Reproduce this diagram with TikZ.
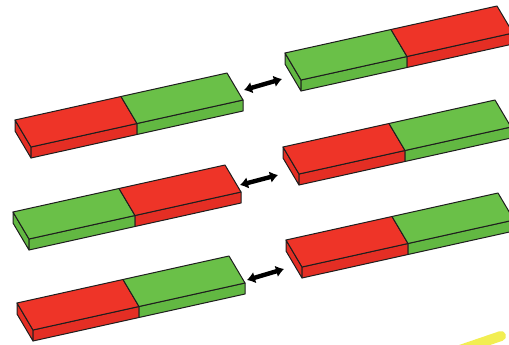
\documentclass[tikz,border=0pt]{standalone}
\usetikzlibrary{arrows.meta,calc}
\definecolor{magred}{RGB}{238,52,40}
\definecolor{magredside}{RGB}{228,46,36}
\definecolor{maggreen}{RGB}{106,192,72}
\definecolor{maggreenside}{RGB}{98,184,66}
\definecolor{edgegray}{RGB}{30,30,30}
\definecolor{marker}{RGB}{242,238,82}
\tikzset{
  baredge/.style={draw=edgegray, line width=1pt, line join=round},
  swaparrow/.style={line width=4.4pt, {Latex[length=8pt,width=12pt]}-{Latex[length=8pt,width=12pt]}},
  highlighter/.style={line width=10pt, line cap=round, draw=marker}
}
% \magbar{name}{x,y of back-left top corner}{left colour}{right colour}
\newcommand\magbar[4]{%
  \coordinate (#1A) at (#2);
  \coordinate (#1M) at ($(#1A)+(106,-23.5)$);
  \coordinate (#1B) at ($(#1A)+(212,-47)$);
  \coordinate (#1D) at ($(#1A)+(16,27)$);
  \coordinate (#1N) at ($(#1M)+(16,27)$);
  \coordinate (#1C) at ($(#1B)+(16,27)$);
  \coordinate (#1Ab) at ($(#1A)+(0,11)$);
  \coordinate (#1Db) at ($(#1D)+(0,11)$);
  \coordinate (#1Nb) at ($(#1N)+(0,11)$);
  \coordinate (#1Cb) at ($(#1C)+(0,11)$);
  % left end face
  \filldraw[baredge, fill=#3side] (#1A) -- (#1D) -- (#1Db) -- (#1Ab) -- cycle;
  % front faces
  \filldraw[baredge, fill=#3side] (#1D) -- (#1N) -- (#1Nb) -- (#1Db) -- cycle;
  \filldraw[baredge, fill=#4side] (#1N) -- (#1C) -- (#1Cb) -- (#1Nb) -- cycle;
  % top faces
  \filldraw[baredge, fill=#3] (#1A) -- (#1M) -- (#1N) -- (#1D) -- cycle;
  \filldraw[baredge, fill=#4] (#1M) -- (#1B) -- (#1C) -- (#1N) -- cycle;
}
\begin{document}
\begin{tikzpicture}[x=1pt,y=-1pt]
  \useasboundingbox (0,0) rectangle (509,345);
  \fill[white] (0,0) rectangle (509,345);

  \magbar{p}{15,120}{magred}{maggreen}
  \magbar{q}{285,53}{maggreen}{magred}
  \magbar{r}{13,212}{maggreen}{magred}
  \magbar{s}{283,147}{magred}{maggreen}
  \magbar{t}{17,303}{magred}{maggreen}
  \magbar{u}{286,240}{magred}{maggreen}

  \coordinate (a1l) at (244,90);  \coordinate (a1r) at (282,79);
  \coordinate (a2l) at (240,185); \coordinate (a2r) at (278,175);
  \coordinate (a3l) at (247,280); \coordinate (a3r) at (284,269);
  \draw[swaparrow] (a1l) -- (a1r);
  \draw[swaparrow] (a2l) -- (a2r);
  \draw[swaparrow] (a3l) -- (a3r);

  \coordinate (m1) at (457,351);
  \coordinate (m2) at (501,336);
  \draw[highlighter] (m1) -- (m2);
\end{tikzpicture}
\end{document}
